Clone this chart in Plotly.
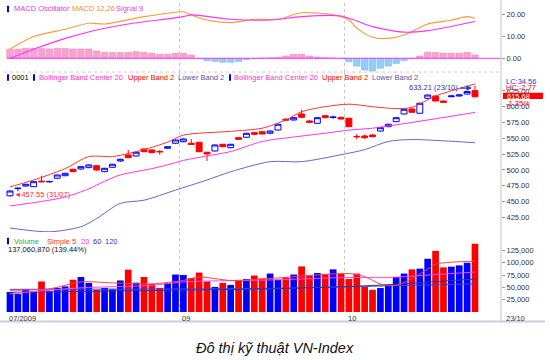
import plotly.graph_objects as go

# ---------------- data ----------------
n_days = 60
first_date_label = "07/2009"
month_labels = ["09", "10"]
month_start_idx = [22, 43]
last_date_label = "23/10"

open_p = [459.0, 470.4, 474.5, 473.4, 482.2, 481.0, 486.7, 490.8, 501.0, 501.4,
          503.5, 506.6, 497.2, 504.1, 514.1, 523.6, 522.0, 533.1, 531.5, 529.2,
          534.2, 542.1, 544.6, 542.1, 543.7, 527.9, 529.9, 540.5, 535.1, 551.0,
          551.6, 558.9, 560.4, 558.0, 563.1, 580.0, 579.0, 588.5, 577.4, 573.7,
          585.8, 582.8, 583.2, 581.6, 553.0, 553.6, 555.2, 561.5, 568.4, 576.3,
          588.5, 596.4, 589.6, 613.3, 616.9, 609.0, 615.8, 616.9, 620.0, 625.5]
close_p = [466.6, 471.0, 477.2, 481.3, 481.2, 481.6, 491.9, 494.6, 497.2, 505.1,
           507.8, 499.8, 502.5, 508.9, 516.8, 519.3, 527.9, 528.8, 527.3, 528.6,
           536.7, 547.3, 548.9, 540.5, 528.8, 525.2, 539.4, 536.7, 540.5, 548.4,
           557.9, 556.3, 556.8, 561.5, 572.2, 578.8, 582.6, 583.2, 575.3, 582.6,
           582.6, 583.6, 580.5, 568.4, 552.5, 551.0, 552.5, 566.8, 572.2, 582.6,
           595.9, 591.1, 605.4, 618.5, 609.0, 607.0, 616.9, 618.5, 624.1, 615.68]
high_p = [468.0, 471.8, 478.0, 482.0, 490.8, 483.0, 492.6, 495.4, 501.8, 505.8,
          508.6, 507.4, 503.2, 509.6, 517.6, 531.5, 528.6, 533.8, 532.2, 531.6,
          537.4, 548.0, 549.6, 548.9, 544.4, 528.6, 540.2, 541.2, 541.2, 551.8,
          558.6, 560.6, 561.2, 562.4, 573.0, 582.2, 583.4, 594.8, 579.2, 583.4,
          586.6, 585.6, 584.0, 582.4, 556.8, 556.0, 556.2, 567.6, 573.0, 583.4,
          596.6, 597.2, 606.2, 619.4, 617.6, 609.8, 618.0, 619.4, 624.9, 633.21]
low_p = [457.55, 466.6, 473.8, 472.8, 480.6, 480.0, 486.0, 490.0, 496.4, 500.6,
         502.8, 499.0, 496.4, 503.4, 512.8, 518.6, 521.2, 528.0, 526.6, 524.0,
         533.4, 541.4, 543.8, 539.8, 528.0, 514.1, 529.2, 536.0, 534.4, 547.6,
         550.8, 555.0, 556.0, 556.5, 562.4, 577.6, 578.2, 582.4, 574.4, 573.0,
         581.8, 581.0, 579.8, 567.6, 548.4, 548.8, 551.6, 560.8, 567.6, 575.6,
         587.8, 590.4, 588.8, 612.6, 608.2, 606.2, 615.0, 616.2, 619.2, 614.8]

volume_m = [40.5, 37, 46, 41, 62, 42, 49, 52, 65.5, 71,
            59, 45, 49, 46, 64, 86, 59.5, 71, 57, 49,
            59, 76, 75, 69, 80, 62, 51, 59, 55, 64,
            67, 74, 68, 78, 65.5, 70, 76, 92.5, 74, 79,
            77, 86.5, 77, 67, 78, 50.7, 45, 48.6, 55, 71,
            78, 86.5, 88, 108, 124, 90.5, 92, 94.6, 100, 138.5]

macd_hist = [4.1, 4.1, 4.5, 4.5, 4.4, 4.2, 4.5, 4.5, 4.2, 4.2,
             4.2, 3.3, 2.7, 2.6, 2.6, 2.6, 3.0, 2.7, 2.3, 1.8,
             1.8, 2.3, 2.3, 1.5, -0.2, -1.0, -1.4, -1.8, -1.8, -1.4,
             -0.6, -0.2, 0.1, 0.2, 0.45, 1.05, 1.8, 1.8, 1.05, 0.6,
             0.3, 0.1, 0.0, -1.5, -3.5, -5.3, -5.7, -4.5, -3.5, -2.3,
             -1.05, -0.2, 1.05, 2.7, 2.7, 2.3, 2.3, 2.3, 2.7, 1.5]
macd_idx = [0, 3, 7, 10, 12, 17, 21, 22, 23, 25, 28, 31, 34, 37, 41, 43, 44, 46, 48, 50, 53, 56, 58, 59]
macd_val = [4.1, 9.8, 13.1, 15.8, 15.5, 18.8, 20.8, 21.0, 19.6, 17.3, 16.1, 17.6, 17.6, 20.6, 19.6,
            17.3, 13.6, 9.5, 9.0, 10.5, 15.5, 17.2, 18.8, 18.1]
signal_idx = [0, 3, 7, 11, 15, 22, 23, 28, 33, 37, 42, 46, 50, 53, 59]
signal_val = [0.0, 4.1, 9.0, 12.8, 15.5, 18.8, 19.6, 17.6, 17.3, 18.8, 19.1, 14.3, 11.8, 12.5, 16.6]

bb_upper_idx = [0, 3, 7, 10, 13, 15, 17, 20, 22, 28, 32, 35, 37, 40, 43, 46, 49, 51, 54, 59]
bb_upper = [473, 484, 502, 521, 521, 526, 532, 544, 555, 561, 566, 579, 592, 600, 604, 600, 597, 599, 617, 636]
bb_mid_idx = [0, 4, 7, 10, 12, 14, 18, 20, 22, 25, 28, 32, 36, 40, 43, 46, 53, 59]
bb_mid = [443, 450, 457, 470, 482, 492, 502, 508, 515, 522, 529, 545, 552, 558, 563, 566, 579, 591]
bb_lower_idx = [0, 5, 9, 11, 14, 17, 21, 25, 28, 33, 37, 42, 45, 48, 51, 55, 59]
bb_lower = [408, 402, 410, 423, 447, 452, 468, 484, 497, 513, 513, 524, 532, 545, 548, 546, 543]

vol_ma5_idx = [0, 5, 9, 13, 18, 22, 24, 28, 33, 38, 43, 45, 47, 49, 51, 53, 54, 56, 59]
vol_ma5 = [44, 47, 61, 59, 57, 64, 71, 64, 68, 74, 78, 72, 57, 54, 68, 87, 97, 101, 103]
vol_ma20_idx = [0, 9, 18, 22, 33, 43, 48, 54, 59]
vol_ma20 = [37, 49, 54, 61, 65, 70, 70, 76, 81]
vol_ma60_idx = [0, 20, 33, 45, 59]
vol_ma60 = [40, 44, 47, 53, 67]
vol_ma120_idx = [0, 33, 45, 59]
vol_ma120 = [46, 48, 52, 57]

low_label = "457.55 (31/07)"
high_label = "633.21 (23/10)"
lc_text = "LC:34.56"
hc_text = "HC:-2.77"
last_close_text = "615.68"
change_text = "-1.35%"
volume_text = "137,060,870 (139.44%)"
title_text = "Đô thị kỹ thuật VN-Index"

# ---------------- layout helpers ----------------
W, H = 550, 360
ML, MR, MT, MB = 4, 49, 3, 48
PW, PH = W - ML - MR, H - MT - MB


def px_x(px):
    return (px - ML) / PW


def px_y(py):
    return (H - MB - py) / PH


X_RANGE = [-0.76, 62.3]
d_vol_top = px_y(232)
d_price_top = px_y(72)

FONT = "Liberation Sans, Arial, sans-serif"
BLUE = "#0000ff"
RED = "#ff0000"

x = list(range(n_days))
fig = go.Figure()

# ---------------- MACD panel ----------------
hist_fill = ["#f7a3cf" if v >= 0 else "#8fd0f8" for v in macd_hist]
hist_edge = ["#ee86c0" if v >= 0 else "#6cbcef" for v in macd_hist]
fig.add_trace(go.Bar(x=x, y=macd_hist, width=0.82,
                     marker=dict(color=hist_fill, line=dict(color=hist_edge, width=0.6)),
                     xaxis="x", yaxis="y"))
fig.add_trace(go.Scatter(x=macd_idx, y=macd_val, mode="lines",
                         line=dict(color="#ff9933", width=1.1, shape="spline", smoothing=0.8),
                         xaxis="x", yaxis="y"))
fig.add_trace(go.Scatter(x=signal_idx, y=signal_val, mode="lines",
                         line=dict(color="#ff33ff", width=1.1, shape="spline", smoothing=0.8),
                         xaxis="x", yaxis="y"))

# ---------------- Price panel ----------------
for xs, ys, col in [(bb_upper_idx, bb_upper, "#ff3333"),
                    (bb_mid_idx, bb_mid, "#ff33ee"),
                    (bb_lower_idx, bb_lower, "#6666cc")]:
    fig.add_trace(go.Scatter(x=xs, y=ys, mode="lines",
                             line=dict(color=col, width=1, shape="spline", smoothing=0.8),
                             xaxis="x2", yaxis="y2"))
fig.add_trace(go.Candlestick(x=x, open=open_p, high=high_p, low=low_p, close=close_p,
                             increasing=dict(line=dict(color=BLUE, width=1), fillcolor="white"),
                             decreasing=dict(line=dict(color=RED, width=1), fillcolor=RED),
                             whiskerwidth=0, xaxis="x2", yaxis="y2"))

# ---------------- Volume panel ----------------
vol_colors = [BLUE if c >= o else RED for o, c in zip(open_p, close_p)]
fig.add_trace(go.Bar(x=x, y=[v * 1000 for v in volume_m], width=0.85,
                     marker=dict(color=vol_colors, line=dict(width=0)),
                     xaxis="x3", yaxis="y3"))
for xs, ys, col in [(vol_ma120_idx, vol_ma120, "#3344ee"),
                    (vol_ma60_idx, vol_ma60, "#333399"),
                    (vol_ma20_idx, vol_ma20, "#ff44ff"),
                    (vol_ma5_idx, vol_ma5, "#ff4444")]:
    fig.add_trace(go.Scatter(x=xs, y=[v * 1000 for v in ys], mode="lines",
                             line=dict(color=col, width=1, shape="spline", smoothing=0.8),
                             xaxis="x3", yaxis="y3"))

# ---------------- axes ----------------
grid_vals = [m - 0.5 for m in month_start_idx]
xcommon = dict(range=X_RANGE, domain=[0, 1], showgrid=True, gridcolor="#c8c8c8",
               griddash="dot", gridwidth=1, tickvals=grid_vals, showticklabels=False,
               ticks="", zeroline=False, showline=False, fixedrange=True)
ycommon = dict(side="right", ticks="outside", ticklen=3, tickcolor="#999999",
               showgrid=False, zeroline=False, showline=False, fixedrange=True,
               tickfont=dict(family=FONT, size=7.5, color="#333333"))

fig.update_layout(
    width=W, height=H, margin=dict(l=ML, r=MR, t=MT, b=MB),
    paper_bgcolor="white", plot_bgcolor="white", showlegend=False,
    font=dict(family=FONT, size=7.5, color="#333333"),
    boxgap=0.25, boxgroupgap=0,
    xaxis=dict(**xcommon, anchor="y"),
    xaxis2=dict(**xcommon, anchor="y2", rangeslider=dict(visible=False)),
    xaxis3=dict(**xcommon, anchor="y3"),
    yaxis=dict(**ycommon, domain=[d_price_top, 1], range=[-6.19, 24.97], anchor="x",
               tickvals=[0, 10, 20], tickformat=".2f"),
    yaxis2=dict(**ycommon, domain=[d_vol_top, d_price_top], range=[401.7, 654.9], anchor="x2",
                tickvals=list(range(425, 626, 25)), tickformat=".2f"),
    yaxis3=dict(**ycommon, domain=[0, d_vol_top], range=[0, 162300], anchor="x3",
                tickvals=[25000, 50000, 75000, 100000, 125000], tickformat=",d", ticksuffix="K"),
)

# ---------------- shapes ----------------
shapes = [
    dict(type="line", xref="x domain", yref="y", x0=0.006, x1=1, y0=0, y1=0,
         line=dict(color="#ff33ff", width=1)),
    dict(type="line", xref="paper", yref="paper", x0=px_x(501), x1=px_x(501),
         y0=px_y(321), y1=px_y(0), line=dict(color="#c4c4c4", width=1)),
    dict(type="line", xref="paper", yref="paper", x0=px_x(0), x1=px_x(545),
         y0=px_y(321.5), y1=px_y(321.5), line=dict(color="#c9cedf", width=2)),
    dict(type="line", xref="paper", yref="paper", x0=0, x1=1, y0=px_y(72), y1=px_y(72),
         line=dict(color="#cccccc", width=1, dash="dot")),
    dict(type="rect", xref="paper", yref="paper", x0=px_x(503), x1=px_x(543),
         y0=px_y(99), y1=px_y(92.7), fillcolor=RED, line=dict(width=0)),
]
for (bx, by) in [(7, 9), (7, 77.5), (33, 77.5), (229, 77.5), (7, 241)]:
    shapes.append(dict(type="rect", xref="paper", yref="paper",
                       x0=px_x(bx), x1=px_x(bx + 2), y0=px_y(by + 3.2), y1=px_y(by - 3.2),
                       fillcolor=BLUE, line=dict(width=0)))
fig.update_layout(shapes=shapes)


def ann(text, xpx, ypx, color="#333333", size=7.5, xanchor="left", **kw):
    return dict(text=text, x=px_x(xpx), y=px_y(ypx), xref="paper", yref="paper",
                xanchor=xanchor, yanchor="middle", showarrow=False,
                font=dict(family=FONT, color=color, size=size), **kw)


anns = [
    ann("MACD Oscillator", 12, 9, "#ee33dd"),
    ann("MACD 12,26", 70, 9, "#ff8c1a"),
    ann("Signal 9", 114, 9, "#ee33ee"),
    ann("0001", 10, 77.5, "#000000"),
    ann("Bollinger Band Center 20", 37, 77.5, "#ff33cc"),
    ann("Upper Band 2", 126, 77.5, RED),
    ann("Lower Band 2", 176, 77.5, "#5555aa"),
    ann("Bollinger Band Center 20", 232, 77.5, "#ff33cc"),
    ann("Upper Band 2", 320, 77.5, RED),
    ann("Lower Band 2", 370, 77.5, "#5555aa"),
    ann("Volume", 12, 241, "#33aa33"),
    ann("Simple 5", 45, 241, "#ff3333"),
    ann("20", 79, 241, "#ff33ff"),
    ann("60", 91, 241, "#333399"),
    ann("120", 103, 241, "#3333ff"),
    ann(volume_text, 6, 249.5, "#111111"),
    ann(lc_text, 504, 81, "#3333cc"),
    ann(hc_text, 504, 87.5, RED),
    ann(last_close_text, 505, 96, "#ffffff"),
    ann(change_text, 504, 103.5, RED),
    ann(last_date_label, 504, 318, "#333333"),
    ann("◄" + low_label, 12, 194.5, "#ff3333"),
    ann(high_label, 460, 87.5, "#3333aa", xanchor="right"),
    ann("<i>" + title_text + "</i>", 275, 348, "#111111", size=14.5, xanchor="center"),
]
anns.append(dict(text=first_date_label, x=-0.4, y=px_y(318), xref="x3", yref="paper",
                 xanchor="left", yanchor="middle", showarrow=False,
                 font=dict(family=FONT, size=7.5, color="#333333")))
for lbl, m in zip(month_labels, month_start_idx):
    anns.append(dict(text=lbl, x=m - 0.4, y=px_y(318), xref="x3", yref="paper",
                     xanchor="left", yanchor="middle", showarrow=False,
                     font=dict(family=FONT, size=7.5, color="#333333")))
anns.append(dict(text="", x=n_days - 1.4, y=629.5, xref="x2", yref="y2",
                 showarrow=True, ax=-13, ay=0, arrowhead=2, arrowsize=0.9,
                 arrowwidth=1.2, arrowcolor="#3333cc"))
fig.update_layout(annotations=anns)

fig.write_html("out.html", config={"displayModeBar": False},
               post_script="document.body.style.margin='0';document.body.style.overflow='hidden';")
